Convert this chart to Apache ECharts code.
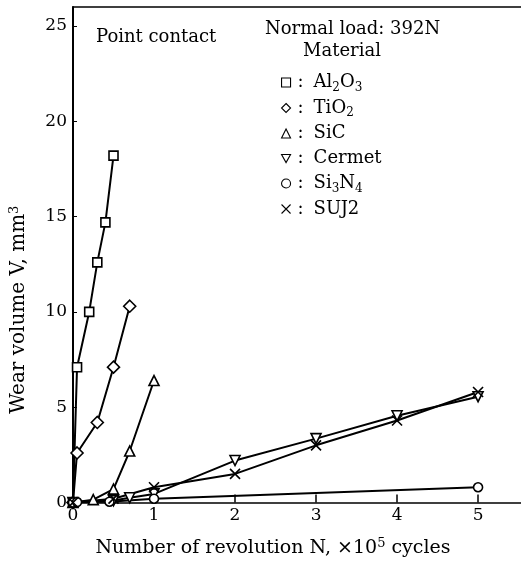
<!DOCTYPE html>
<html>
<head>
<meta charset="utf-8">
<script src="https://cdn.jsdelivr.net/npm/echarts@6/dist/echarts.min.js"></script>
<style>html,body{margin:0;padding:0;background:#fff}#c{width:521px;height:563px}</style>
</head>
<body>
<div id="c"></div>
<script>
// Number of revolution N (x10^5 cycles) and wear volume V (mm^3)
const al2o3N = [0, 0.05, 0.2, 0.3, 0.4, 0.5];
const al2o3V = [0, 7.1, 10.0, 12.6, 14.7, 18.2];
const tio2N = [0, 0.05, 0.3, 0.5, 0.7];
const tio2V = [0, 2.6, 4.2, 7.1, 10.3];
const sicN = [0, 0.25, 0.5, 0.7, 1.0];
const sicV = [0, 0.15, 0.7, 2.7, 6.4];
const cermetN = [0, 0.5, 0.7, 1, 2, 3, 4, 5];
const cermetV = [0, 0.1, 0.25, 0.45, 2.2, 3.35, 4.55, 5.55];
const si3n4N = [0, 0.05, 0.45, 1.0, 5];
const si3n4V = [0, 0.02, 0.04, 0.2, 0.8];
const suj2N = [0, 0.5, 1, 2, 3, 4, 5];
const suj2V = [0, 0.2, 0.8, 1.5, 3.0, 4.3, 5.8];
const xTicks = [0, 1, 2, 3, 4, 5];
const yTicks = [0, 5, 10, 15, 20, 25];

const FONT = 'DejaVu Serif';
const pairs = (a, b) => a.map((v, i) => [v, b[i]]);
const invTri = 'path://M0,0L10,0L5,9Z';
const cross = 'path://M0,0L10,10M10,0L0,10';

const mats = [
  {name: 'Al2O3', label: '{c|:}Al{s|2}O{s|3}', data: pairs(al2o3N, al2o3V), symbol: 'rect', size: 9},
  {name: 'TiO2', label: '{c|:}TiO{s|2}', data: pairs(tio2N, tio2V), symbol: 'diamond', size: 12},
  {name: 'SiC', label: '{c|:}SiC', data: pairs(sicN, sicV), symbol: 'triangle', size: 10},
  {name: 'Cermet', label: '{c|:}Cermet', data: pairs(cermetN, cermetV), symbol: invTri, size: 10},
  {name: 'Si3N4', label: '{c|:}Si{s|3}N{s|4}', data: pairs(si3n4N, si3n4V), symbol: 'circle', size: 9},
  {name: 'SUJ2', label: '{c|:}SUJ2', data: pairs(suj2N, suj2V), symbol: cross, size: 10}
];

const series = mats.map(m => ({
  name: m.name,
  type: 'line',
  data: m.data,
  symbol: m.symbol,
  symbolSize: m.size,
  showAllSymbol: true,
  lineStyle: {color: '#000', width: 2},
  itemStyle: {color: '#fff', borderColor: '#000', borderWidth: 1.6},
  z: 3
}));

const labelMap = {};
mats.forEach(m => labelMap[m.name] = m.label);

const chart = echarts.init(document.getElementById('c'), null, {renderer: 'canvas'});
chart.setOption({
  animation: false,
  backgroundColor: '#fff',
  grid: {left: 73, top: 7, right: 0, bottom: 58},
  xAxis: [{
    type: 'value', min: 0, max: 5.53, interval: 1,
    axisLine: {lineStyle: {color: '#000', width: 1.5}},
    axisTick: {inside: true, length: 8, customValues: xTicks, lineStyle: {color: '#000', width: 1.5}},
    splitLine: {show: false},
    axisLabel: {color: '#000', fontFamily: FONT, fontSize: 17, margin: 5, customValues: xTicks,
      formatter: v => xTicks.indexOf(v) >= 0 ? String(v) : ''},
    name: 'Number of revolution N, \u00d710{sup|5} cycles',
    nameLocation: 'middle', nameGap: 35,
    nameTextStyle: {color: '#000', fontFamily: FONT, fontSize: 19, padding: [0, 48, 0, 0],
      rich: {sup: {fontSize: 13, fontFamily: FONT, color: '#000', padding: [0, 0, 9, 0]}}}
  }, {
    type: 'value', position: 'top', min: 0, max: 5.53,
    axisLine: {show: true, onZero: false, lineStyle: {color: '#000', width: 1.5}},
    axisTick: {show: false}, axisLabel: {show: false}, splitLine: {show: false}
  }],
  yAxis: {
    type: 'value', min: 0, max: 26, interval: 5,
    axisLine: {lineStyle: {color: '#000', width: 2}},
    axisTick: {inside: true, length: 4, customValues: yTicks, lineStyle: {color: '#000', width: 1}},
    splitLine: {show: false},
    axisLabel: {color: '#000', fontFamily: FONT, fontSize: 17, margin: 6, customValues: yTicks,
      formatter: v => yTicks.indexOf(v) >= 0 ? String(v) : ''},
    name: 'Wear volume V, mm{sup|3}',
    nameLocation: 'middle', nameGap: 43, nameRotate: 90,
    nameTextStyle: {color: '#000', fontFamily: FONT, fontSize: 20, padding: [0, 110, 0, 0],
      rich: {sup: {fontSize: 13, fontFamily: FONT, color: '#000', padding: [0, 0, 9, 0]}}}
  },
  legend: {
    orient: 'vertical', left: 276, top: 67,
    itemWidth: 9, itemHeight: 9, itemGap: 4,
    data: mats.map(m => ({name: m.name, icon: m.symbol})),
    formatter: n => labelMap[n],
    itemStyle: {borderWidth: 1.1},
    textStyle: {color: '#000', fontFamily: FONT, fontSize: 18, lineHeight: 21,
      rich: {
        c: {fontSize: 18, fontFamily: FONT, color: '#000', padding: [0, 10, 0, 2]},
        s: {fontSize: 12, fontFamily: FONT, color: '#000', padding: [10, 0, 0, 0]}
      }},
    selectedMode: false
  },
  graphic: [
    {type: 'text', left: 96, top: 28, style: {text: 'Point contact', fill: '#000', font: '18px "DejaVu Serif"'}},
    {type: 'text', left: 265, top: 20, style: {text: 'Normal load: 392N', fill: '#000', font: '18px "DejaVu Serif"'}},
    {type: 'text', left: 303, top: 42, style: {text: 'Material', fill: '#000', font: '18px "DejaVu Serif"'}}
  ],
  series: series
});
</script>
</body>
</html>
